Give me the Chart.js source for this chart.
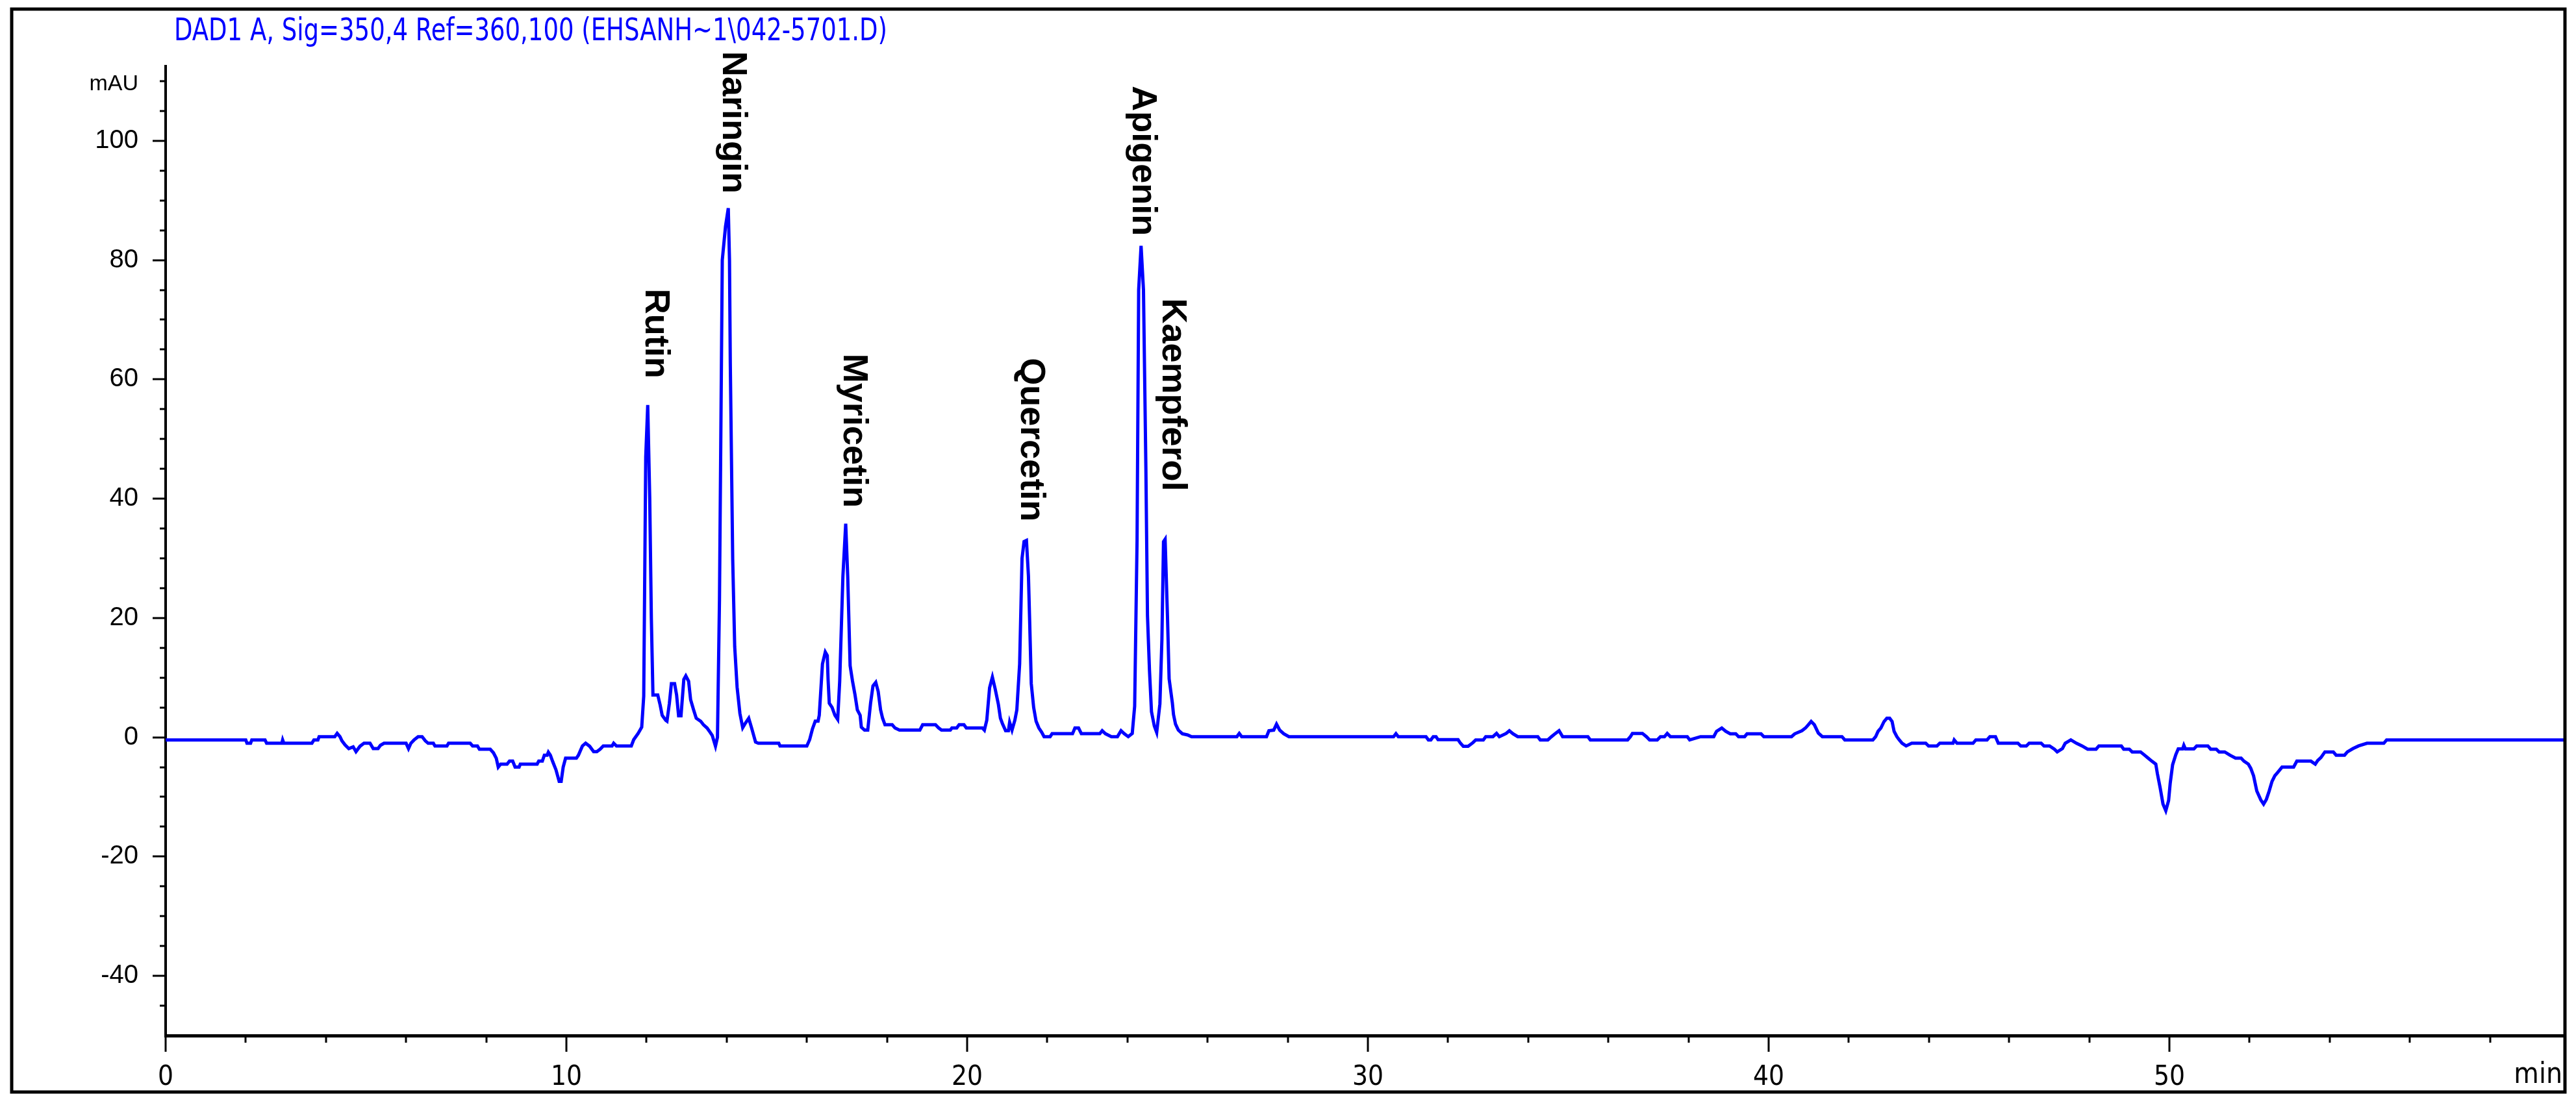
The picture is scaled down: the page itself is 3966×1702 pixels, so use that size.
<!DOCTYPE html>
<html><head><meta charset="utf-8">
<script src="https://cdn.jsdelivr.net/npm/chart.js@4/dist/chart.umd.min.js"></script>
<style>html,body{margin:0;padding:0;background:#fff;} canvas{display:block;}</style>
</head><body>
<canvas id="c" width="3966" height="1702" style="width:3966px;height:1702px"></canvas>
<script>
const titleText = "DAD1 A, Sig=350,4 Ref=360,100 (EHSANH~1\\042-5701.D)";
const yUnit = "mAU";
const xUnit = "min";
const xTickValues = [0, 10, 20, 30, 40, 50];
const yTickValues = [-40, -20, 0, 20, 40, 60, 80, 100];

const times = [0.00,2.00,2.03,2.12,2.15,2.48,2.52,2.90,2.92,2.95,3.65,3.70,3.80,3.83,4.22,4.28,4.35,4.40,4.48,4.57,4.68,4.75,4.85,4.95,5.10,5.18,5.30,5.36,5.45,6.00,6.06,6.12,6.20,6.30,6.40,6.48,6.55,6.68,6.72,7.02,7.06,7.60,7.66,7.78,7.83,8.10,8.18,8.25,8.30,8.36,8.52,8.58,8.66,8.72,8.82,8.85,9.27,9.31,9.40,9.45,9.52,9.55,9.60,9.66,9.74,9.82,9.87,9.92,9.98,10.25,10.30,10.40,10.48,10.58,10.68,10.76,10.84,10.92,11.14,11.18,11.25,11.62,11.68,11.79,11.88,11.93,11.98,12.03,12.08,12.12,12.16,12.28,12.34,12.39,12.48,12.51,12.57,12.62,12.70,12.75,12.80,12.86,12.93,12.98,13.05,13.10,13.17,13.24,13.35,13.42,13.51,13.57,13.64,13.72,13.77,13.82,13.89,13.97,14.04,14.07,14.09,14.15,14.20,14.26,14.33,14.40,14.47,14.55,14.62,14.72,14.79,15.30,15.33,16.00,16.07,16.14,16.21,16.28,16.31,16.39,16.46,16.51,16.53,16.56,16.63,16.70,16.77,16.82,16.90,16.97,17.02,17.08,17.14,17.20,17.26,17.33,17.36,17.44,17.52,17.59,17.65,17.72,17.78,17.84,17.89,17.95,18.13,18.20,18.31,18.82,18.89,19.21,19.29,19.36,19.58,19.62,19.74,19.80,19.92,19.98,20.38,20.43,20.49,20.56,20.63,20.70,20.78,20.83,20.88,20.96,21.03,21.06,21.12,21.19,21.24,21.31,21.37,21.42,21.48,21.53,21.56,21.60,21.66,21.72,21.79,21.86,21.92,22.07,22.12,22.63,22.69,22.78,22.85,23.31,23.37,23.45,23.60,23.75,23.84,23.92,24.02,24.12,24.18,24.24,24.28,24.34,24.40,24.46,24.50,24.55,24.60,24.67,24.73,24.81,24.86,24.90,24.94,25.00,25.04,25.12,25.15,25.20,25.27,25.37,25.50,25.60,26.73,26.79,26.85,27.47,27.53,27.65,27.72,27.80,27.90,28.03,30.64,30.70,30.76,31.45,31.51,31.57,31.63,31.70,31.75,32.25,32.31,32.38,32.50,32.62,32.69,32.88,32.94,33.12,33.21,33.28,33.45,33.53,33.62,33.74,34.24,34.30,34.49,34.58,34.68,34.77,34.86,35.49,35.55,36.48,36.55,36.60,36.85,36.95,37.03,37.22,37.30,37.40,37.47,37.55,37.97,38.03,38.30,38.63,38.70,38.83,38.93,39.04,39.18,39.25,39.40,39.46,39.81,39.88,40.57,40.65,40.83,40.92,40.99,41.06,41.14,41.24,41.34,41.83,41.90,42.60,42.67,42.73,42.80,42.88,42.95,43.02,43.08,43.13,43.20,43.26,43.33,43.43,43.57,43.92,43.99,44.20,44.27,44.60,44.63,44.70,45.10,45.17,45.45,45.52,45.66,45.73,46.22,46.29,46.43,46.50,46.80,46.87,47.01,47.13,47.20,47.33,47.40,47.54,47.68,47.82,47.96,48.17,48.24,48.80,48.86,49.00,49.07,49.28,49.38,49.47,49.56,49.66,49.70,49.77,49.84,49.91,49.98,50.02,50.08,50.16,50.22,50.33,50.36,50.40,50.61,50.68,50.96,51.03,51.17,51.24,51.38,51.51,51.65,51.79,51.86,51.97,52.03,52.10,52.18,52.28,52.35,52.42,52.49,52.56,52.63,52.70,52.81,53.10,53.18,53.53,53.64,53.70,53.78,53.88,54.09,54.16,54.37,54.44,54.58,54.72,54.93,55.35,55.42,59.87];

const signal = [-0.44,-0.44,-1.0,-1.0,-0.44,-0.44,-1.0,-1.0,-0.44,-1.0,-1.0,-0.44,-0.44,0.1,0.1,0.65,0.1,-0.6,-1.3,-1.9,-1.6,-2.4,-1.5,-1.0,-1.0,-1.9,-1.9,-1.35,-1.0,-1.0,-1.9,-1.0,-0.44,0.1,0.1,-0.6,-1.0,-1.0,-1.45,-1.45,-1.0,-1.0,-1.45,-1.45,-2.0,-2.0,-2.6,-3.5,-5.0,-4.5,-4.5,-4.0,-4.0,-5.0,-5.0,-4.5,-4.5,-4.0,-4.0,-3.0,-3.0,-2.5,-3.0,-4.1,-5.45,-7.4,-7.4,-5.0,-3.5,-3.5,-3.0,-1.45,-1.0,-1.5,-2.4,-2.4,-2.0,-1.45,-1.45,-1.0,-1.45,-1.45,-0.4,0.65,1.7,6.9,47,55.7,40,20,7.1,7.1,5.4,3.7,2.85,2.7,5.7,9.0,9.0,7.1,3.6,3.6,9.7,10.3,9.4,6.3,4.7,3.2,2.7,2.1,1.56,1.0,0.3,-1.5,0.0,23,80,85.6,88.7,80,62.7,29.9,15.2,8.4,4.0,1.6,2.4,3.2,1.6,-0.8,-1.0,-1.0,-1.45,-1.45,-0.4,1.4,2.7,2.7,3.7,12.3,14.3,13.7,9.7,5.7,5.0,3.7,3.0,9.4,27,35.8,27,12,9.4,7.2,4.6,3.7,1.7,1.2,1.2,5.7,8.6,9.2,7.7,4.6,3.2,2.1,2.1,1.56,1.2,1.2,2.1,2.1,1.56,1.2,1.2,1.56,1.56,2.1,2.1,1.56,1.56,1.2,2.85,8.3,10.1,8.1,5.5,3.2,2.3,1.1,1.1,2.5,1.2,2.85,4.6,12.3,30,32.8,33.0,27,19.5,9.0,5.0,2.7,1.56,0.85,0.1,0.1,0.6,0.6,1.56,1.56,0.6,0.6,1.1,0.6,0.1,0.1,1.1,0.6,0.1,0.65,5.2,33,75,82.4,75,45.2,20.4,11.2,4.3,1.9,0.8,5.6,16.4,32.8,33.2,20,9.8,5.8,3.8,2.2,1.2,0.6,0.4,0.1,0.1,0.65,0.1,0.1,1.1,1.2,2.2,1.2,0.6,0.1,0.1,0.6,0.1,0.1,-0.44,-0.44,0.1,0.1,-0.4,-0.4,-1.0,-1.5,-1.5,-0.9,-0.44,-0.44,0.1,0.1,0.65,0.1,0.65,1.1,0.6,0.1,0.1,-0.44,-0.44,0.1,0.65,1.1,0.1,0.1,-0.44,-0.44,0.1,0.65,0.65,0.1,-0.44,-0.44,0.1,0.1,0.65,0.1,0.1,-0.44,0.1,0.1,1.0,1.56,1.0,0.58,0.58,0.1,0.1,0.58,0.58,0.1,0.1,0.58,1.1,1.56,2.1,2.65,2.1,0.7,0.1,0.1,-0.44,-0.44,0.1,1.0,1.56,2.65,3.2,3.2,2.65,1.0,0.1,-0.44,-1.0,-1.45,-1.0,-1.0,-1.45,-1.45,-1.0,-1.0,-0.44,-1.0,-1.0,-0.44,-0.44,0.1,0.1,-1.0,-1.0,-1.45,-1.45,-1.0,-1.0,-1.45,-1.45,-2.0,-2.45,-1.9,-1.0,-0.44,-1.0,-1.45,-2.0,-2.0,-1.45,-1.45,-2.0,-2.0,-2.45,-2.45,-3.0,-3.5,-4.0,-4.5,-6.1,-8.5,-11.2,-12.3,-10.6,-7.7,-4.6,-2.9,-1.96,-1.96,-1.35,-1.96,-1.96,-1.45,-1.45,-2.0,-2.0,-2.45,-2.45,-3.0,-3.5,-3.5,-4.0,-4.5,-5.2,-6.45,-9.0,-10.5,-11.2,-10.4,-9.0,-7.4,-6.45,-5.9,-5.0,-5.0,-4.0,-4.0,-4.5,-3.9,-3.4,-2.45,-2.45,-3.0,-3.0,-2.45,-1.9,-1.45,-1.0,-1.0,-0.44,-0.44];

const peakNames = ["Rutin", "Naringin", "Myricetin", "Quercetin", "Apigenin", "Kaempferol"];
const peakLabelTime = [12.22, 14.15, 17.16, 21.58, 24.37, 25.12];
const peakLabelTop = [75.2, 115.0, 64.3, 63.6, 109.2, 73.6];

const NARROW = "'Liberation Sans Narrow', 'Arial Narrow', 'DejaVu Sans Condensed', sans-serif";
const SANS = "'Liberation Sans', Arial, sans-serif";

const decor = {
  id: 'decor',
  beforeDraw(chart) {
    const c = chart.ctx;
    c.save(); c.fillStyle = '#fff'; c.fillRect(0, 0, chart.width, chart.height); c.restore();
  },
  afterDatasetsDraw(chart) {
    const c = chart.ctx, xs = chart.scales.x, ys = chart.scales.y;
    c.save();
    c.fillStyle = '#000';
    c.font = "bold 54px " + SANS;
    c.textAlign = 'left';
    c.textBaseline = 'middle';
    peakNames.forEach((n, i) => {
      c.save();
      c.translate(xs.getPixelForValue(peakLabelTime[i]), ys.getPixelForValue(peakLabelTop[i]));
      c.rotate(Math.PI / 2);
      c.fillText(n, 0, 0);
      c.restore();
    });
    c.restore();
  },
  afterDraw(chart) {
    const c = chart.ctx, xs = chart.scales.x, ys = chart.scales.y, a = chart.chartArea;
    c.save();
    c.strokeStyle = '#000';
    c.lineWidth = 3;
    c.beginPath();
    for (let i = 0; 2 * i <= xs.max; i++) {
      const t = 2 * i;
      const p = Math.round(xs.getPixelForValue(t));
      const len = (t % 10 === 0) ? 25 : 11;
      c.moveTo(p, a.bottom); c.lineTo(p, a.bottom + len);
    }
    for (let v = -45; v <= 110; v += 5) {
      const p = Math.round(ys.getPixelForValue(v));
      const len = (v % 20 === 0) ? 20 : 9;
      c.moveTo(a.left, p); c.lineTo(a.left - len, p);
    }
    c.stroke();
    // units
    c.fillStyle = '#000';
    c.font = "34px " + SANS;
    c.textAlign = 'right'; c.textBaseline = 'middle';
    c.fillText(yUnit, a.left - 42, ys.getPixelForValue(110) + 5);
    c.font = "44px " + NARROW;
    c.textAlign = 'right'; c.textBaseline = 'top';
    c.fillText(xUnit, a.right - 4, a.bottom + 40);
    // title
    c.fillStyle = '#0000ff';
    c.font = "48px " + NARROW;
    c.textAlign = 'left'; c.textBaseline = 'alphabetic';
    const w = c.measureText(titleText).width;
    c.save();
    c.translate(268, 62);
    c.scale(1098 / w, 1);
    c.fillText(titleText, 0, 0);
    c.restore();
    // outer frame
    c.strokeStyle = '#000';
    c.lineWidth = 5;
    c.strokeRect(18, 14, 3931, 1668);
    c.restore();
  }
};

new Chart(document.getElementById('c'), {
  type: 'line',
  data: {
    datasets: [{
      data: times.map((t, i) => ({ x: t, y: signal[i] })),
      borderColor: '#0000ff',
      borderWidth: 5,
      pointRadius: 0,
      tension: 0,
      fill: false
    }]
  },
  options: {
    responsive: false,
    animation: false,
    devicePixelRatio: 1,
    layout: { padding: { left: 0, top: 102, right: 17, bottom: 0 } },
    plugins: { legend: { display: false }, tooltip: { enabled: false }, title: { display: false } },
    scales: {
      x: {
        type: 'linear', min: 0, max: 59.87,
        afterBuildTicks: s => { s.ticks = xTickValues.map(v => ({ value: v })); },
        afterFit: s => { s.height = 1702 - 1595; },
        grid: { display: false, drawTicks: false },
        border: { display: true, color: '#000', width: 5 },
        ticks: { color: '#000', font: { family: NARROW, size: 42 }, padding: 40, maxRotation: 0, autoSkip: false }
      },
      y: {
        type: 'linear', min: -50, max: 112.5,
        afterBuildTicks: s => { s.ticks = yTickValues.map(v => ({ value: v })); },
        afterFit: s => { s.width = 255; },
        grid: { display: false, drawTicks: false },
        border: { display: true, color: '#000', width: 4 },
        ticks: { color: '#000', font: { family: SANS, size: 40 }, padding: 42, autoSkip: false }
      }
    }
  },
  plugins: [decor]
});
</script>
</body></html>
